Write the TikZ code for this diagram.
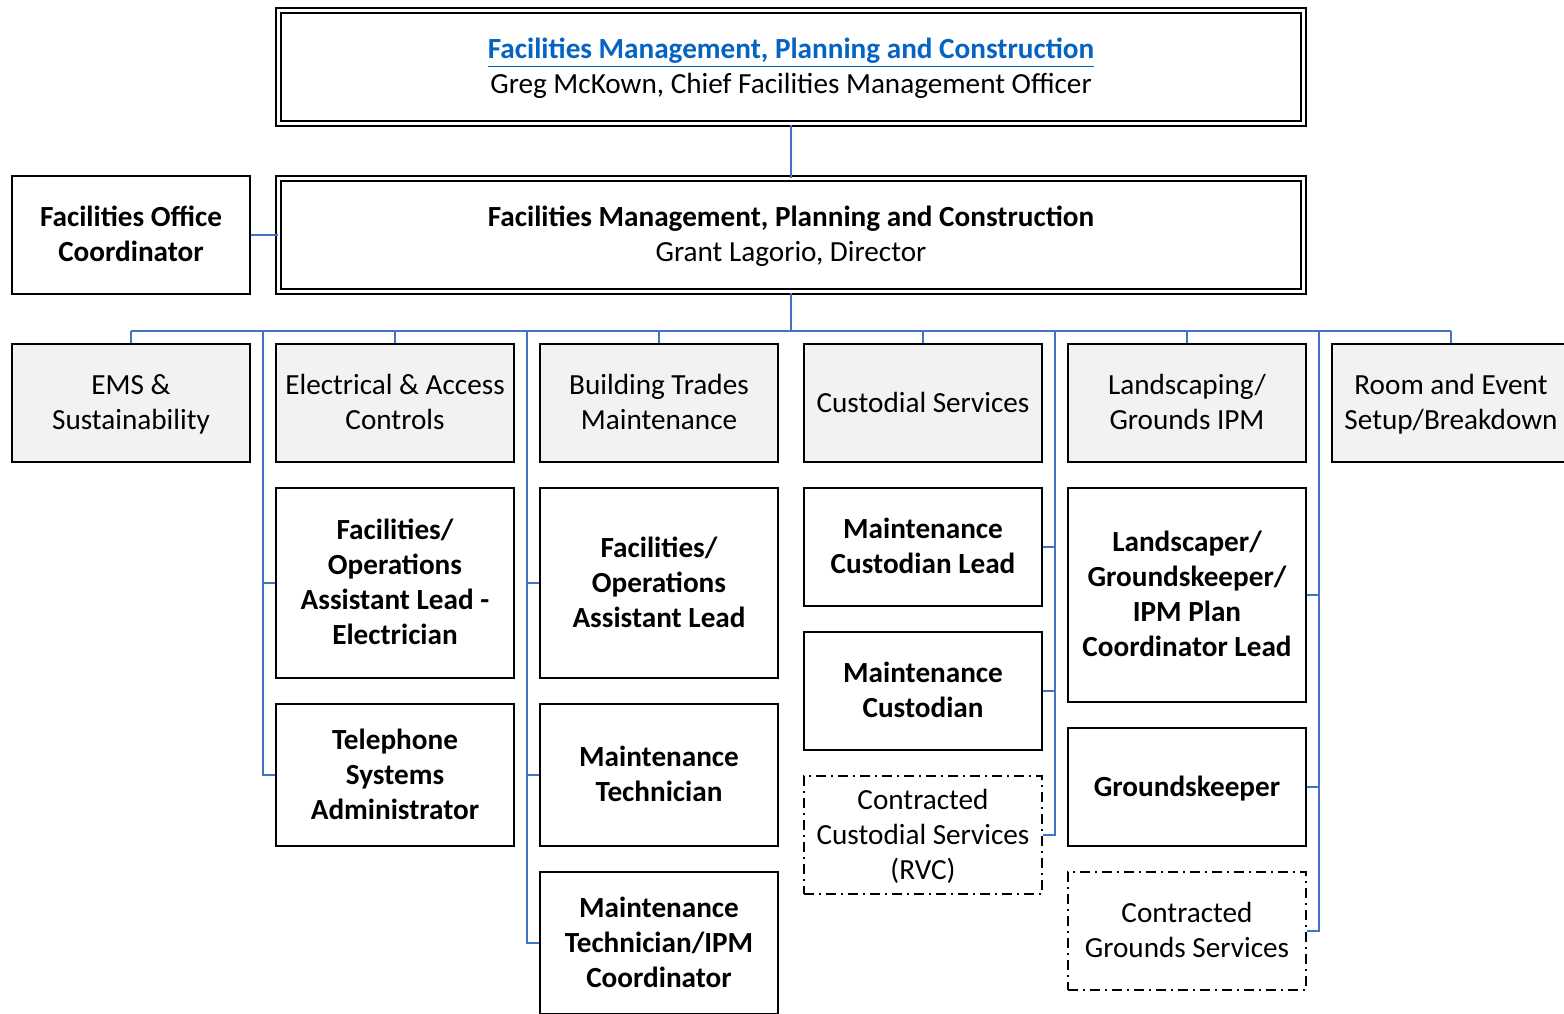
\documentclass[tikz,border=0pt]{standalone}
\usepackage{fontspec}
\setmainfont{Carlito}
\definecolor{connblue}{HTML}{4472C4}
\definecolor{linkblue}{HTML}{0563C1}
\definecolor{hdrgray}{HTML}{F2F2F2}
% fixed line struts so that every box sets its text like a word processor
\newcommand{\topst}{\rule{0pt}{13pt}}
\newcommand{\botst}{\rule[-4pt]{0pt}{4pt}}
\tikzset{
  txt/.style={font=\fontsize{14.6}{17.5}\selectfont},
  btxt/.style={font=\fontsize{14.6}{17.5}\selectfont\bfseries},
  box/.style={draw=black, line width=1pt, minimum width=119pt, minimum height=59pt, inner sep=0pt, align=center, txt},
  hdr/.style={box, fill=hdrgray},
  bbox/.style={box, btxt},
  ctr/.style={box, dash pattern=on 5pt off 2.5pt on 1pt off 2.5pt},
  dbl/.style={box, double=white, double distance=1.75pt, minimum width=512.5pt, minimum height=56.5pt},
  conn/.style={draw=connblue, line width=0.75pt},
}
\begin{document}
\begin{tikzpicture}[x=0.5pt,y=-0.5pt]
\useasboundingbox (0,0) rectangle (1564,1013);
\clip (0,0) rectangle (1564,1013);
\fill[white] (0,0) rectangle (1564,1013);

% coordinates for bus and spines
\coordinate (busL) at (131,331);
\coordinate (busR) at (1451,331);
\coordinate (sp2) at (263,331);
\coordinate (sp3) at (527,331);
\coordinate (sp4) at (1055,331);
\coordinate (sp5) at (1319,331);

% top boxes
\node[dbl] (top) at (791,67) {\topst{\color{linkblue}\bfseries\underline{Facilities Management, Planning and Construction}}\\Greg McKown, Chief Facilities Management Officer\botst};
\node[dbl] (dir) at (791,235) {\topst{\bfseries Facilities Management, Planning and Construction}\\Grant Lagorio, Director\botst};
\node[bbox] (foc) at (131,235) {\topst Facilities Office\\Coordinator\botst};

% headers
\node[hdr] (ems) at (131,403) {\topst EMS \&\\Sustainability\botst};
\node[hdr] (elec) at (395,403) {\topst Electrical \& Access\\Controls\botst};
\node[hdr] (bt) at (659,403) {\topst Building Trades\\Maintenance\botst};
\node[hdr] (cust) at (923,403) {\topst Custodial Services\botst};
\node[hdr] (land) at (1187,403) {\topst Landscaping/\\Grounds IPM\botst};
\node[hdr] (room) at (1451,403) {\topst Room and Event\\Setup/Breakdown\botst};

% column 2
\node[bbox, minimum height=95pt] (fae) at (395,583) {\topst Facilities/\\Operations\\Assistant Lead -\\Electrician\botst};
\node[bbox, minimum height=71pt] (tel) at (395,775) {\topst Telephone\\Systems\\Administrator\botst};
% column 3
\node[bbox, minimum height=95pt] (fa) at (659,583) {\topst Facilities/\\Operations\\Assistant Lead\botst};
\node[bbox, minimum height=71pt] (mt) at (659,775) {\topst Maintenance\\Technician\botst};
\node[bbox, minimum height=71pt] (mti) at (659,943) {\topst Maintenance\\Technician/IPM\\Coordinator\botst};
% column 4
\node[bbox] (mcl) at (923,547) {\topst Maintenance\\Custodian Lead\botst};
\node[bbox] (mc) at (923,691) {\topst Maintenance\\Custodian\botst};
\node[ctr] (ccs) at (923,835) {\topst Contracted\\Custodial Services\\(RVC)\botst};
% column 5
\node[bbox, minimum height=107pt] (lgl) at (1187,595) {\topst Landscaper/\\Groundskeeper/\\IPM Plan\\Coordinator Lead\botst};
\node[bbox] (gk) at (1187,787) {\topst Groundskeeper\botst};
\node[ctr] (cgs) at (1187,931) {\topst Contracted\\Grounds Services\botst};

% connectors
\draw[conn] (top.south) -- (dir.north);
\draw[conn] (foc.east) -- (dir.west);
\draw[conn] (dir.south) -- (dir.south |- busL);
\draw[conn] (busL) -- (busR);
\foreach \h in {ems,elec,bt,cust,land,room} \draw[conn] (\h.north |- busL) -- (\h.north);
\draw[conn] (sp2) |- (fae.west);
\draw[conn] (sp2) |- (tel.west);
\draw[conn] (sp3) |- (fa.west);
\draw[conn] (sp3) |- (mt.west);
\draw[conn] (sp3) |- (mti.west);
\draw[conn] (sp4) |- (mcl.east);
\draw[conn] (sp4) |- (mc.east);
\draw[conn] (sp4) |- (ccs.east);
\draw[conn] (sp5) |- (lgl.east);
\draw[conn] (sp5) |- (gk.east);
\draw[conn] (sp5) |- (cgs.east);
\end{tikzpicture}
\end{document}
